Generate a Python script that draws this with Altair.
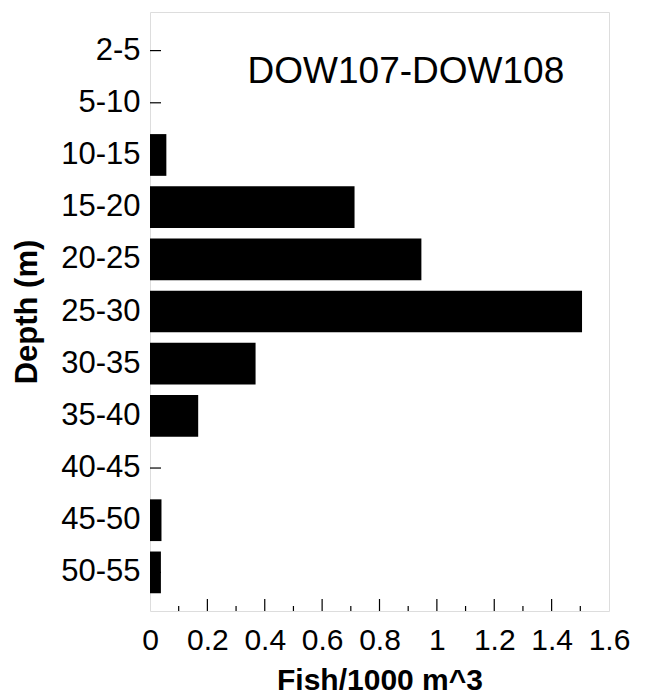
import altair as alt
import pandas as pd

depths = ["2-5", "5-10", "10-15", "15-20", "20-25", "25-30", "30-35",
          "35-40", "40-45", "45-50", "50-55"]
fish = [0.0, 0.0, 0.057, 0.713, 0.946, 1.506, 0.368, 0.168, 0.0, 0.040, 0.038]
major_ticks = [0.2, 0.4, 0.6, 0.8, 1.0, 1.2, 1.4]
minor_ticks = [0.1, 0.3, 0.5, 0.7, 0.9, 1.1, 1.3, 1.5]
x_labels = [0, 0.2, 0.4, 0.6, 0.8, 1, 1.2, 1.4, 1.6]
annotation = "DOW107-DOW108"

W, H = 459, 599
FONT = "Liberation Sans"

df = pd.DataFrame({"Depth": depths, "Fish": fish})
df_major = pd.DataFrame({"t": major_ticks})
df_minor = pd.DataFrame({"t": minor_ticks})
df_ann = pd.DataFrame({"label": [annotation], "x": [0.892]})

xscale = alt.Scale(domain=[0, 1.6], nice=False, zero=True)
yscale = alt.Scale(domain=depths, paddingInner=0.2, paddingOuter=0.34)

xaxis = alt.Axis(values=x_labels, labelExpr="format(datum.value, '~g')",
                 ticks=False, domain=False, grid=False, labelFontSize=30,
                 labelFont=FONT, labelColor="black", labelPadding=14,
                 title="Fish/1000 m^3", titleFont=FONT, titleFontSize=30,
                 titleFontWeight="bold", titleColor="black", titlePadding=10,
                 labelFlush=False, labelOverlap=False)
yaxis = alt.Axis(ticks=False, domain=False, grid=False, labelFontSize=31,
                 labelFont=FONT, labelColor="black", labelPadding=10,
                 title="Depth (m)", titleFont=FONT, titleFontSize=31,
                 titleFontWeight="bold", titleColor="black", titlePadding=17)

bars = alt.Chart(df).mark_bar(color="black").encode(
    x=alt.X("Fish:Q", scale=xscale, axis=xaxis),
    y=alt.Y("Depth:N", scale=yscale, axis=yaxis, sort=depths),
)

ytick = alt.Chart(df).mark_rule(color="black", strokeWidth=1.2).encode(
    y=alt.Y("Depth:N", scale=yscale, sort=depths, bandPosition=0.5),
    x=alt.value(0), x2=alt.value(11),
)

majors = alt.Chart(df_major).mark_rule(color="black", strokeWidth=1.2).encode(
    x=alt.X("t:Q", scale=xscale),
    y=alt.value(H), y2=alt.value(H - 12),
)
minors = alt.Chart(df_minor).mark_rule(color="black", strokeWidth=1.2).encode(
    x=alt.X("t:Q", scale=xscale),
    y=alt.value(H), y2=alt.value(H - 5),
)

ann = alt.Chart(df_ann).mark_text(font=FONT, fontSize=37, color="black",
                                  align="center", baseline="middle").encode(
    x=alt.X("x:Q", scale=xscale),
    y=alt.value(60),
    text="label:N",
)

chart = alt.layer(bars, ytick, majors, minors, ann).properties(
    width=W, height=H,
    autosize=alt.AutoSizeParams(type="none"),
    padding={"left": 142, "top": 4, "right": 32, "bottom": 84},
).configure_view(stroke="black", strokeWidth=2).configure(background="white")

chart.save("out.html", embed_options={"renderer": "svg", "actions": False})
